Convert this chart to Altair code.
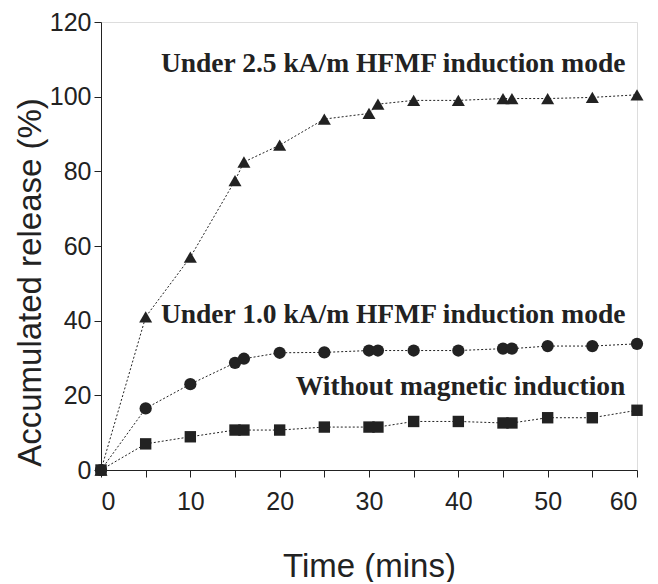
import altair as alt
import pandas as pd

time = [0, 5, 10, 15, 16, 20, 25, 30, 31, 35, 40, 45, 46, 50, 55, 60]
hf25 = [0, 41, 57, 77.5, 82.5, 87, 94, 95.5, 98, 99, 99, 99.5, 99.5, 99.5, 99.8, 100.5]
hf10 = [0, 16.5, 23, 28.7, 29.8, 31.4, 31.5, 32, 32, 32, 32, 32.5, 32.5, 33.2, 33.2, 33.8]
none = [0, 7, 8.9, 10.7, 10.7, 10.7, 11.5, 11.5, 11.5, 13, 13, 12.6, 12.6, 14, 14, 16]

series_names = ["hf25", "hf10", "none"]
series_shapes = ["triangle-up", "circle", "square"]
series_sizes = [170, 130, 110]

labels = ["Under 2.5 kA/m HFMF induction mode",
          "Under 1.0 kA/m HFMF induction mode",
          "Without magnetic induction"]
label_x = [58.7, 58.7, 58.7]
label_y = [106.6, 39.4, 20.1]

rows = []
for name, vals in zip(series_names, [hf25, hf10, none]):
    for t, v in zip(time, vals):
        rows.append({"time": t, "value": v, "series": name})
df = pd.DataFrame(rows)
lab = pd.DataFrame({"text": labels, "x": label_x, "y": label_y})

xs = alt.Scale(domain=[0, 60], nice=False)
ys = alt.Scale(domain=[0, 120], nice=False)

x_axis = alt.Axis(values=list(range(0, 61, 5)),
                  labelExpr="datum.value % 10 == 0 ? datum.label : ''",
                  grid=False, tickSize=7, labelPadding=12,
                  labelFont="Liberation Sans", labelFontSize=25, labelColor="#222",
                  title="Time (mins)", titleFont="Liberation Sans", titleFontSize=33,
                  titleFontWeight="normal", titleColor="#222",
                  titleY=106, titleBaseline="alphabetic",
                  domainColor="#222", tickColor="#222")
y_axis = alt.Axis(values=list(range(0, 121, 10)),
                  labelExpr="datum.value % 20 == 0 ? datum.label : ''",
                  grid=False, tickSize=7, labelPadding=3,
                  labelFont="Liberation Sans", labelFontSize=25, labelColor="#222",
                  title="Accumulated release (%)", titleFont="Liberation Sans",
                  titleFontSize=33, titleFontWeight="normal", titleColor="#222",
                  titleAngle=270, titleX=-61, titleY=260, titleAlign="center",
                  titleBaseline="alphabetic",
                  domainColor="#222", tickColor="#222")

base = alt.Chart(df).encode(
    x=alt.X("time:Q", scale=xs, axis=x_axis),
    y=alt.Y("value:Q", scale=ys, axis=y_axis),
    detail="series:N",
)

lines = base.mark_line(color="#222", strokeWidth=1, strokeDash=[2, 2], clip=False)
points = base.mark_point(filled=True, color="#222", opacity=1, clip=False).encode(
    shape=alt.Shape("series:N", scale=alt.Scale(domain=series_names, range=series_shapes), legend=None),
    size=alt.Size("series:N", scale=alt.Scale(domain=series_names, range=series_sizes), legend=None),
)
texts = alt.Chart(lab).mark_text(font="Liberation Serif", fontWeight="bold", fontSize=27.5,
                                  align="right", baseline="alphabetic", color="#222").encode(
    x=alt.X("x:Q", scale=xs),
    y=alt.Y("y:Q", scale=ys),
    text="text:N",
)

chart = alt.layer(lines, points, texts).properties(
    width=536, height=448,
    autosize=alt.AutoSizeParams(type="none"),
    padding={"left": 93, "top": 14, "right": 12, "bottom": 112},
).configure_view(stroke="#222", strokeWidth=1).configure(background="white")

chart.save("out.html", embed_options={"renderer": "svg", "actions": False})
